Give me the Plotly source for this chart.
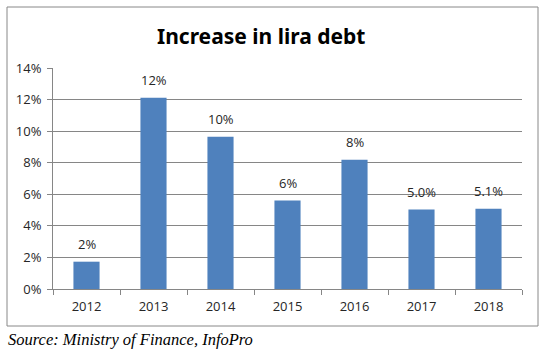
import plotly.graph_objects as go

years = ["2012", "2013", "2014", "2015", "2016", "2017", "2018"]
increase_pct = [1.73, 12.12, 9.65, 5.6, 8.19, 5.03, 5.09]
value_labels = ["2%", "12%", "10%", "6%", "8%", "5.0%", "5.1%"]
y_ticks = [0, 2, 4, 6, 8, 10, 12, 14]
y_tick_labels = ["0%", "2%", "4%", "6%", "8%", "10%", "12%", "14%"]
title_text = "Increase in lira debt"
source_text = "Source: Ministry of Finance, InfoPro"

W, H = 546, 354
L, R, T, B = 53, 24, 68, 65
pw, ph = W - L - R, H - T - B

def px_x(p):
    return (p - L) / pw

def px_y(p):
    return (H - B - p) / ph

fig = go.Figure()
fig.add_trace(go.Bar(x=years, y=increase_pct, marker_color="#4F81BD",
                     marker_line_width=0, hoverinfo="skip"))

for i, (v, lab) in enumerate(zip(increase_pct, value_labels)):
    fig.add_annotation(x=i, y=v, text=lab, showarrow=False, yanchor="bottom",
                       yshift=7, font=dict(family="Open Sans", size=13, color="#262626"))

fig.update_layout(
    width=W, height=H,
    margin=dict(l=L, r=R, t=T, b=B),
    paper_bgcolor="white", plot_bgcolor="white",
    showlegend=False, bargap=0.61,
    font=dict(family="Open Sans", size=12, color="#262626"),
)
fig.update_xaxes(type="category", range=[-0.5, len(years) - 0.5], showgrid=False,
                 showline=True, linecolor="#868686",
                 linewidth=1, ticks="outside", tickson="boundaries", ticklen=5,
                 tickcolor="#868686", tickangle=0, ticklabelstandoff=5,
                 tickfont=dict(family="Open Sans", size=13, color="#262626"))
fig.update_yaxes(range=[0, 14], tickvals=y_ticks, ticktext=y_tick_labels, showgrid=True,
                 gridcolor="#868686", gridwidth=1, showline=True, linecolor="#868686",
                 ticks="outside", ticklen=5, tickcolor="#868686", zeroline=False,
                 ticklabelstandoff=3,
                 tickfont=dict(family="Open Sans", size=13, color="#262626"))

# outer chart border
fig.add_shape(type="rect", xref="paper", yref="paper",
              x0=px_x(7), x1=px_x(538), y0=px_y(326), y1=px_y(7),
              line=dict(color="#888888", width=1), fillcolor="rgba(0,0,0,0)", layer="below")

fig.add_annotation(xref="paper", yref="paper", x=px_x(261), y=px_y(36), text="<b>" + title_text + "</b>",
                   showarrow=False, xanchor="center", yanchor="middle",
                   font=dict(family="Noto Sans", size=21, color="black"))
fig.add_annotation(xref="paper", yref="paper", x=px_x(6), y=px_y(339), text="<i>" + source_text + "</i>",
                   showarrow=False, xanchor="left", yanchor="middle",
                   font=dict(family="Liberation Serif", size=16.5, color="black"))

fig.write_html("out.html")
